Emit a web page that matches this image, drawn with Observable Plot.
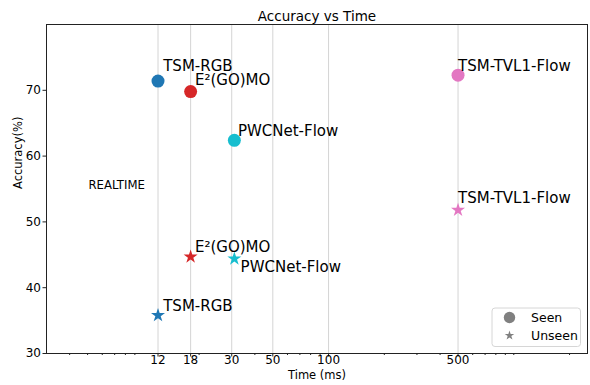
<!DOCTYPE html>
<html><head><meta charset="utf-8">
<script src="https://cdn.jsdelivr.net/npm/d3@7"></script>
<script src="https://cdn.jsdelivr.net/npm/@observablehq/plot@0.6"></script>
<style>body{margin:0;background:#fff} svg{font-family:"DejaVu Sans",sans-serif}</style>
</head><body><div id="chart"></div>
<script>
// ---- data ----
const methods = ["TSM-RGB", "E²(GO)MO", "PWCNet-Flow", "TSM-TVL1-Flow"];
const timeMs = [12, 18, 31, 500];
const seenAcc = [71.4, 69.8, 62.4, 72.3];
const unseenAcc = [35.8, 44.7, 44.4, 51.8];
// annotation anchors (data units)
const seenLabelTime = [12.8, 19.0, 32.4, 500];
const seenLabelAcc = [72.9, 70.75, 63.0, 73.0];
const unseenLabelTime = [12.8, 19.0, 33.5, 500];
const unseenLabelAcc = [36.4, 45.4, 42.4, 52.85];
const xTicks = [12, 18, 30, 50, 100, 500];
const xMinor = [4,5,6,7,8,9,20,40,60,70,80,90,200,300,400,600,700,800,900,1000,2000];
const yTicks = [30, 40, 50, 60, 70];
const legendLabels = ["Seen", "Unseen"];
const realtimeNote = {time: 5.05, acc: 55, text: "REALTIME"};
const palette = ["#1f77b4", "#d62728", "#17becf", "#e377c2"];

const seen = methods.map((m, i) => ({method: m, time: timeMs[i], acc: seenAcc[i], lt: seenLabelTime[i], la: seenLabelAcc[i]}));
const unseen = methods.map((m, i) => ({method: m, time: timeMs[i], acc: unseenAcc[i], lt: unseenLabelTime[i], la: unseenLabelAcc[i]}));

const W = 590, H = 385, ML = 46, MR = 3, MT = 24, MB = 32;
const plot = Plot.plot({
  width: W, height: H, marginLeft: ML, marginRight: MR, marginTop: MT, marginBottom: MB,
  style: {fontFamily: "DejaVu Sans", fontSize: "12px", background: "white", color: "black"},
  x: {type: "log", domain: [3, 2500]},
  y: {domain: [30, 80]},
  color: {domain: methods, range: palette},
  marks: [
    Plot.gridX(xTicks, {stroke: "#d4d4d4", strokeOpacity: 1, strokeWidth: 1}),
    Plot.axisX(xMinor, {tickSize: 2, text: null, label: null, stroke: "#222"}),
    Plot.axisX(xTicks, {tickSize: 3.5, text: null, label: null, stroke: "#222"}),
    Plot.text(xTicks, {x: d => d, text: d => String(d), frameAnchor: "bottom", dy: 10.5, fontSize: 12}),
    Plot.axisY(yTicks, {tickSize: 3.5, tickPadding: 2, label: null, fontSize: 12, stroke: "#222"}),
    Plot.frame({stroke: "#222", strokeWidth: 1}),
    Plot.text(["Time (ms)"], {frameAnchor: "bottom", dy: 25, fontSize: 11.5}),
    Plot.text(["Accuracy(%)"], {frameAnchor: "left", dx: -28, rotate: -90, fontSize: 11.5}),
    Plot.text(["Accuracy vs Time"], {frameAnchor: "top", dy: -4, lineAnchor: "bottom", fontSize: 13.5}),
    Plot.dot(seen, {x: "time", y: "acc", r: 6.5, fill: "method", stroke: null}),
    Plot.dot(unseen, {x: "time", y: "acc", r: 4.4, symbol: "star", fill: "method", stroke: null}),
    Plot.text(seen, {x: "lt", y: "la", text: "method", textAnchor: "start", lineAnchor: "bottom", fontSize: 15}),
    Plot.text(unseen, {x: "lt", y: "la", text: "method", textAnchor: "start", lineAnchor: "bottom", fontSize: 15}),
    Plot.text([realtimeNote], {x: "time", y: "acc", text: "text", textAnchor: "start", lineAnchor: "bottom", fontSize: 11.7})
  ]
});

// legend (inside the plot, lower right)
const svg = d3.select(plot);
const lx = W - MR - 95, ly = H - MB - 45;
const lg = svg.append("g").attr("font-family", "DejaVu Sans").attr("font-size", 12.5).attr("text-anchor", "start");
lg.append("rect").attr("x", lx).attr("y", ly).attr("width", 88.5).attr("height", 38.5)
  .attr("rx", 3).attr("fill", "white").attr("fill-opacity", 0.85).attr("stroke", "#d6d6d6");
lg.append("circle").attr("cx", lx + 17.5).attr("cy", ly + 9.5).attr("r", 5.7).attr("fill", "#808080");
lg.append("path").attr("transform", `translate(${lx + 17.5},${ly + 27.5})`)
  .attr("d", d3.symbol(d3.symbolStar, Math.PI * 3 * 3)()).attr("fill", "#808080");
legendLabels.forEach((t, i) => {
  lg.append("text").attr("x", lx + 39).attr("y", ly + 9.5 + i * 18).attr("dy", "0.35em")
    .attr("text-anchor", "start").attr("fill", "black").text(t);
});

document.getElementById("chart").append(plot);
</script>
</body></html>
